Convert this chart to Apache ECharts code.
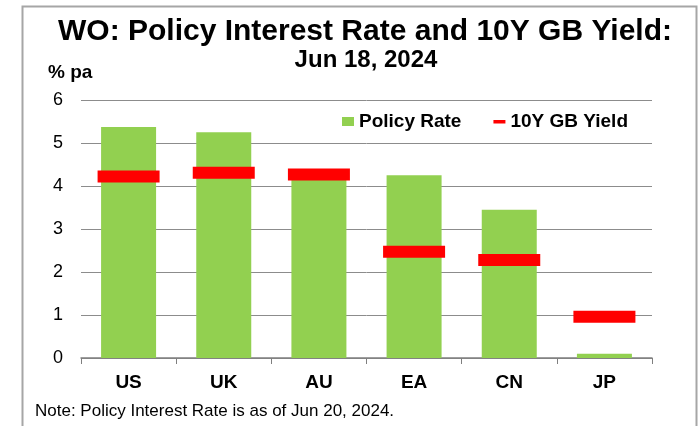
<!DOCTYPE html>
<html>
<head>
<meta charset="utf-8">
<script src="https://cdn.jsdelivr.net/npm/echarts@6/dist/echarts.min.js"></script>
<style>
html,body{margin:0;padding:0;background:#fff;}
#c{width:700px;height:426px;}
</style>
</head>
<body>
<div id="c"></div>
<script>
var categories = ['US', 'UK', 'AU', 'EA', 'CN', 'JP'];
var policyRate = [5.375, 5.25, 4.35, 4.25, 3.45, 0.1];
var gbYield = [4.22, 4.31, 4.27, 2.47, 2.28, 0.96];
var yTicks = [0, 1, 2, 3, 4, 5, 6];

var chart = echarts.init(document.getElementById('c'));
var F = 'Arial, "Liberation Sans", sans-serif';
chart.setOption({
  animation: false,
  backgroundColor: '#fff',
  textStyle: { fontFamily: F },
  graphic: [{
    type: 'rect', left: 20, top: 4, silent: true,
    shape: { width: 674, height: 440 },
    style: { fill: 'none', stroke: '#a6a6a6', lineWidth: 2 }
  }, {
    type: 'text', left: 35, top: 403,
    style: { text: 'Note: Policy Interest Rate is as of Jun 20, 2024.', fill: '#000', font: '17px ' + F }
  }],
  title: [{
    text: 'WO: Policy Interest Rate and 10Y GB Yield:',
    left: 360, top: 12, textAlign: 'center',
    textStyle: { fontSize: 30, fontWeight: 'bold', color: '#000', fontFamily: F }
  }, {
    text: 'Jun 18, 2024',
    left: 361, top: 43, textAlign: 'center',
    textStyle: { fontSize: 24, fontWeight: 'bold', color: '#000', fontFamily: F }
  }, {
    text: '% pa',
    left: 43, top: 58,
    textStyle: { fontSize: 19, fontWeight: 'bold', color: '#000', fontFamily: F }
  }],
  legend: {
    left: 337, top: 107,
    itemGap: 32, itemWidth: 12, itemHeight: 9,
    textStyle: { fontSize: 19, fontWeight: 'bold', color: '#000', fontFamily: F },
    data: [
      { name: 'Policy Rate', icon: 'rect' },
      { name: '10Y GB Yield', icon: 'path://M0,0 M12,9 M0,3h12v3.5h-12z' }
    ]
  },
  grid: { left: 81, right: 48, top: 100, bottom: 68 },
  xAxis: {
    type: 'category', data: categories,
    axisLine: { lineStyle: { color: '#7f7f7f', width: 1.5 } },
    axisTick: { show: true, length: 6, alignWithLabel: false, lineStyle: { color: '#7f7f7f' } },
    axisLabel: { fontSize: 19, fontWeight: 'bold', color: '#000', margin: 15, fontFamily: F }
  },
  yAxis: {
    type: 'value', min: 0, max: 6, interval: 1,
    axisLine: { show: false }, axisTick: { show: false },
    splitLine: { lineStyle: { color: '#8c8c8c', width: 1 } },
    axisLabel: { fontSize: 18, color: '#000', margin: 18, fontFamily: F,
      formatter: function (v) { return yTicks.indexOf(v) >= 0 ? String(v) : ''; } }
  },
  series: [{
    name: 'Policy Rate', type: 'bar', data: policyRate,
    barWidth: 55,
    itemStyle: { color: '#92D050' }
  }, {
    name: '10Y GB Yield', type: 'scatter', data: gbYield,
    symbol: 'rect', symbolSize: [62, 12],
    itemStyle: { color: '#FF0000', opacity: 1 }, z: 5
  }]
});
</script>
</body>
</html>
